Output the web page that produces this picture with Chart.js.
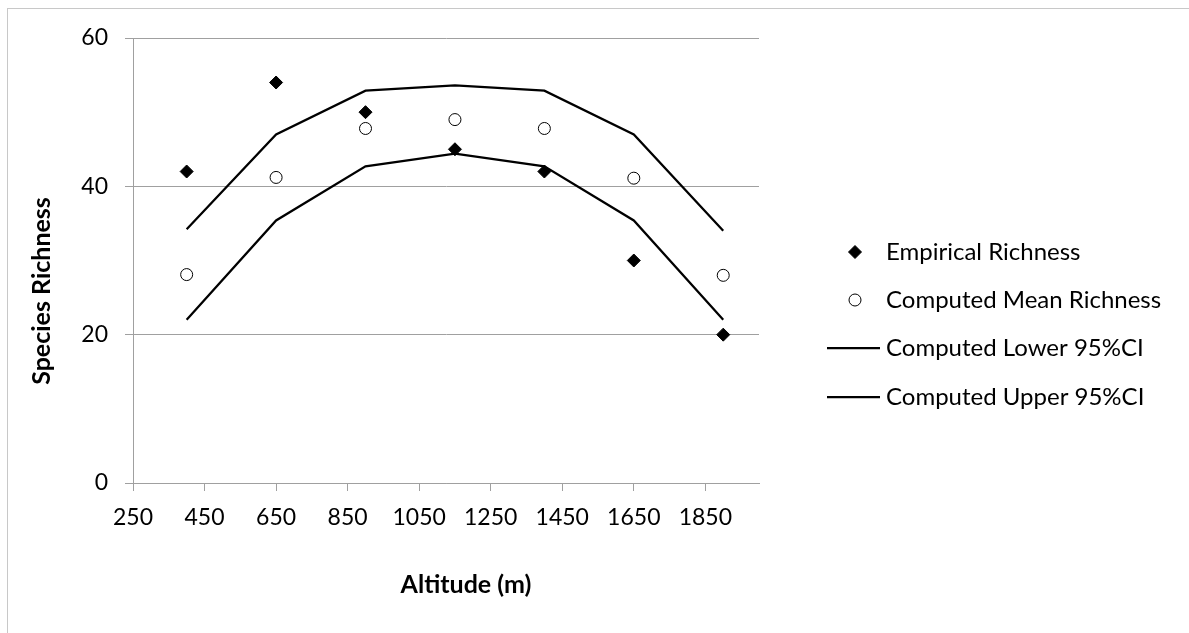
<!DOCTYPE html>
<html>
<head>
<meta charset="utf-8">
<title>Species Richness vs Altitude</title>
<script src="https://cdn.jsdelivr.net/npm/chart.js@4.4.1/dist/chart.umd.min.js"></script>
<style>
    html, body { margin: 0; padding: 0; background: #fff; }
    #wrap { position: relative; width: 1189px; height: 633px; }
</style>
</head>
<body>
<div id="wrap"><canvas id="richnessChart"></canvas></div>
<script>
// Data
const altitudes = [400, 650, 900, 1150, 1400, 1650, 1900];
const empiricalRichness = [42, 54, 50, 45, 42, 30, 20];
const meanRichness = [28.1, 41.2, 47.8, 49, 47.8, 41.1, 28];
const lower95 = [22, 35.4, 42.7, 44.4, 42.7, 35.4, 22];
const upper95 = [34.2, 47, 52.9, 53.6, 52.9, 47, 34];
const xTicks = [250, 450, 650, 850, 1050, 1250, 1450, 1650, 1850];
const yTicks = [0, 20, 40, 60];

const FONT = 'Lato, "Open Sans", sans-serif';
const GRID = '#a0a0a0';

function toPoints(values) {
    return altitudes.map((x, i) => ({ x: x, y: values[i] }));
}

// White page, outer frame, axis titles and legend
const decorations = {
    id: 'decorations',
    beforeDraw(chart) {
        const ctx = chart.ctx;
        ctx.save();
        ctx.fillStyle = '#fff';
        ctx.fillRect(0, 0, chart.width, chart.height);
        ctx.strokeStyle = '#c8c8c8';
        ctx.lineWidth = 1;
        ctx.strokeRect(7.5, 8.5, chart.width + 10, chart.height + 10);
        ctx.restore();
    },
    afterDraw(chart) {
        const ctx = chart.ctx;
        ctx.save();
        ctx.fillStyle = '#000';
        ctx.font = 'bold 25px ' + FONT;
        ctx.textAlign = 'center';
        ctx.textBaseline = 'middle';
        ctx.fillText('Altitude (m)', 466, 585);
        ctx.translate(42, 291);
        ctx.rotate(-Math.PI / 2);
        ctx.fillText('Species Richness', 0, 0);
        ctx.restore();

        // legend
        const rows = [252, 300, 348, 397];
        ctx.save();
        ctx.font = '24px ' + FONT;
        ctx.textAlign = 'left';
        ctx.textBaseline = 'middle';
        chart.data.datasets.forEach((ds, i) => {
            const y = rows[i];
            if (ds.showLine) {
                ctx.strokeStyle = ds.borderColor;
                ctx.lineWidth = ds.borderWidth;
                ctx.beginPath();
                ctx.moveTo(827, y);
                ctx.lineTo(880, y);
                ctx.stroke();
            } else {
                ctx.fillStyle = ds.backgroundColor;
                ctx.strokeStyle = ds.borderColor;
                ctx.lineWidth = ds.borderWidth;
                Chart.helpers.drawPoint(ctx, {
                    pointStyle: ds.pointStyle,
                    radius: ds.pointRadius,
                    borderWidth: ds.borderWidth,
                    rotation: 0
                }, 855, y);
            }
            ctx.fillStyle = '#000';
            ctx.fillText(ds.label, 886, y);
        });
        ctx.restore();
    }
};

document.addEventListener('DOMContentLoaded', function() {
    const ctx = document.getElementById('richnessChart').getContext('2d');
    new Chart(ctx, {
        type: 'scatter',
        data: {
            datasets: [{
                label: 'Empirical Richness',
                data: toPoints(empiricalRichness),
                pointStyle: 'rectRot',
                pointRadius: 6.5,
                backgroundColor: '#000',
                borderColor: '#000',
                borderWidth: 1,
                order: 0
            }, {
                label: 'Computed Mean Richness',
                data: toPoints(meanRichness),
                pointStyle: 'circle',
                pointRadius: 6,
                backgroundColor: '#fff',
                borderColor: '#000',
                borderWidth: 1,
                order: 0
            }, {
                label: 'Computed Lower 95%CI',
                data: toPoints(lower95),
                showLine: true,
                pointRadius: 0,
                borderColor: '#000',
                backgroundColor: '#000',
                borderWidth: 2.25,
                order: 1
            }, {
                label: 'Computed Upper 95%CI',
                data: toPoints(upper95),
                showLine: true,
                pointRadius: 0,
                borderColor: '#000',
                backgroundColor: '#000',
                borderWidth: 2.25,
                order: 1
            }]
        },
        options: {
            responsive: true,
            maintainAspectRatio: false,
            animation: false,
            layout: { padding: { top: 38, left: 0, right: 430, bottom: 0 } },
            plugins: {
                legend: { display: false },
                tooltip: { enabled: false }
            },
            scales: {
                x: {
                    type: 'linear',
                    min: 250,
                    max: 2000,
                    afterBuildTicks: function(scale) {
                        scale.ticks = xTicks.map(v => ({ value: v }));
                    },
                    afterFit: function(scale) { scale.height = 150; },
                    ticks: {
                        color: '#000',
                        padding: 13,
                        maxRotation: 0,
                        autoSkip: false,
                        font: { family: FONT, size: 23 },
                        callback: function(value) { return String(value); }
                    },
                    grid: { drawOnChartArea: false, drawTicks: true, tickLength: 8, color: GRID },
                    border: { color: GRID, width: 1 }
                },
                y: {
                    min: 0,
                    max: 60,
                    afterBuildTicks: function(scale) {
                        scale.ticks = yTicks.map(v => ({ value: v }));
                    },
                    afterFit: function(scale) { scale.width = 133; },
                    ticks: {
                        color: '#000',
                        padding: 17,
                        font: { family: FONT, size: 23 },
                        callback: function(value) { return String(value); }
                    },
                    grid: { color: GRID, tickLength: 8, lineWidth: 1 },
                    border: { color: GRID, width: 1 }
                }
            }
        },
        plugins: [decorations]
    });
});
</script>
</body>
</html>
